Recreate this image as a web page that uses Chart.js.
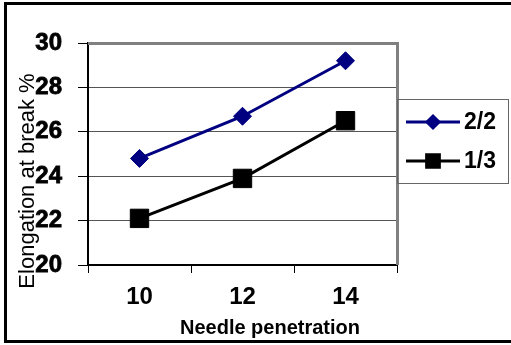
<!DOCTYPE html>
<html>
<head>
<meta charset="utf-8">
<script src="https://cdn.jsdelivr.net/npm/chart.js@4"></script>
<style>
  html, body { margin: 0; padding: 0; background: #fff; }
  #wrap { position: relative; width: 511px; height: 345px; }
  #c { position: absolute; left: 0; top: 0; }
  #frame { position: absolute; left: 4px; top: 2px; width: 507px; height: 335px;
           border-left: 3px solid #000; border-top: 3px solid #000; border-bottom: 3px solid #000;
           pointer-events: none; }
</style>
</head>
<body>
<div id="wrap">
  <canvas id="c" width="511" height="345"></canvas>
  <div id="frame"></div>
</div>
<script>
const categories = ['10', '12', '14'];
const series22 = [24.8, 26.7, 29.2];
const series13 = [22.1, 23.9, 26.5];
const seriesNames = ['2/2', '1/3'];
const yTicks = [20, 22, 24, 26, 28, 30];
const xTitle = 'Needle penetration';
const yTitle = 'Elongation at break %';

const FONT = '"Liberation Sans", Arial, sans-serif';
Chart.defaults.font.family = FONT;
Chart.defaults.font.weight = 'bold';
Chart.defaults.color = '#000';

const decor = {
  id: 'decor',
  beforeDatasetsDraw(chart) {
    const ctx = chart.ctx, a = chart.chartArea;
    ctx.save();
    ctx.strokeStyle = '#808080';
    ctx.lineWidth = 3;
    ctx.beginPath();
    ctx.moveTo(a.left, a.top + 0.5);
    ctx.lineTo(a.right + 0.5, a.top + 0.5);
    ctx.lineTo(a.right + 0.5, a.bottom);
    ctx.stroke();
    ctx.restore();
  },
  afterDraw(chart) {
    const ctx = chart.ctx;
    ctx.save();
    ctx.fillStyle = '#000';
    // x title
    ctx.font = 'bold 20px ' + FONT;
    ctx.textAlign = 'center';
    ctx.textBaseline = 'alphabetic';
    ctx.fillText(xTitle, 270, 334);
    // y title
    ctx.save();
    ctx.translate(34, 181);
    ctx.rotate(-Math.PI / 2);
    ctx.font = '22px ' + FONT;
    ctx.textAlign = 'center';
    ctx.textBaseline = 'alphabetic';
    ctx.fillText(yTitle, 0, 0);
    ctx.restore();
    // legend box
    ctx.strokeStyle = '#666';
    ctx.lineWidth = 1;
    ctx.strokeRect(397.5, 99.5, 111, 84);
    const items = [
      { y: 122, color: '#000080', lw: 3, style: 'rectRot', r: 6 },
      { y: 161, color: '#000000', lw: 3, style: 'rect', r: 9 }
    ];
    items.forEach((it, i) => {
      ctx.strokeStyle = it.color;
      ctx.lineWidth = it.lw;
      ctx.beginPath();
      ctx.moveTo(406, it.y);
      ctx.lineTo(460, it.y);
      ctx.stroke();
      ctx.fillStyle = it.color;
      Chart.helpers.drawPoint(ctx, { pointStyle: it.style, radius: it.r, borderWidth: 1, rotation: 0 }, 433, it.y);
      ctx.fill();
      ctx.fillStyle = '#000';
      ctx.font = 'bold 23px ' + FONT;
      ctx.textAlign = 'left';
      ctx.textBaseline = 'middle';
      ctx.fillText(seriesNames[i], 464, it.y + 1);
    });
    ctx.restore();
  }
};

new Chart(document.getElementById('c'), {
  type: 'line',
  data: {
    labels: categories,
    datasets: [
      { label: seriesNames[0], data: series22, borderColor: '#000080', backgroundColor: '#000080',
        borderWidth: 3, pointStyle: 'rectRot', pointRadius: 9, pointHoverRadius: 9,
        pointBorderWidth: 1, tension: 0 },
      { label: seriesNames[1], data: series13, borderColor: '#000000', backgroundColor: '#000000',
        borderWidth: 3, pointStyle: 'rect', pointRadius: 13, pointHoverRadius: 13,
        pointBorderWidth: 1, tension: 0 }
    ]
  },
  options: {
    responsive: false,
    animation: false,
    devicePixelRatio: 1,
    layout: { padding: { left: 0, right: 114, top: 43, bottom: 0 } },
    plugins: { legend: { display: false }, tooltip: { enabled: false } },
    scales: {
      x: {
        offset: true,
        grid: { display: true, offset: true, drawOnChartArea: false, drawTicks: true, tickLength: 8, color: '#000', lineWidth: 1 },
        border: { display: true, color: '#000', width: 2 },
        ticks: { color: '#000', font: { size: 24, weight: 'bold' }, padding: 10, maxRotation: 0 },
        afterFit(s) { s.height = 80; }
      },
      y: {
        min: 20, max: 30,
        afterBuildTicks(s) { s.ticks = yTicks.map(v => ({ value: v })); },
        grid: { color: '#555', lineWidth: 1, tickLength: 10, tickColor: '#000' },
        border: { display: true, color: '#000', width: 2 },
        ticks: { color: '#000', font: { size: 24, weight: 'bold' }, padding: 16,
                 textStrokeColor: '#000', textStrokeWidth: 0.8 },
        afterFit(s) { s.width = 88; }
      }
    }
  },
  plugins: [decor]
});
</script>
</body>
</html>
